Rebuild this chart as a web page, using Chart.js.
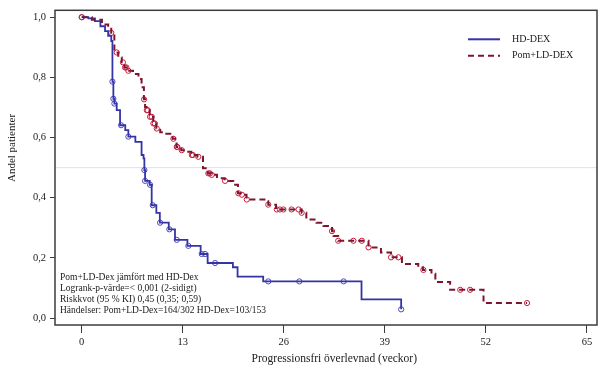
<!DOCTYPE html>
<html>
<head>
<meta charset="utf-8">
<script src="https://cdn.jsdelivr.net/npm/chart.js@4.4.1/dist/chart.umd.min.js"></script>
<style>
  html, body { margin: 0; padding: 0; background: #fff; }
</style>
</head>
<body>
<canvas id="km" width="605" height="367"></canvas>
<script>
// axis ticks
const xTicks = [0, 13, 26, 39, 52, 65];
const yTicks = [0, 0.2, 0.4, 0.6, 0.8, 1.0];

// HD-DEX: step times (weeks) and survival after each step, censor times
const hdTime = [0, 0.85, 1.7, 2.4, 3.0, 3.4, 3.8, 3.95, 4.07, 4.2, 4.5, 4.93, 5.6, 6.0, 6.9,
  7.7, 7.95, 8.06, 8.15, 8.75, 9.0, 9.6, 10.05, 11.2, 12.0, 13.6, 15.3, 16.2, 19.45, 20.05,
  23.35, 36.0, 41.1];
const hdSurv = [1.0, 0.996, 0.987, 0.970, 0.954, 0.938, 0.921, 0.786, 0.729, 0.713, 0.691, 0.641,
  0.625, 0.603, 0.586, 0.542, 0.531, 0.492, 0.456, 0.443, 0.375, 0.350, 0.317, 0.295, 0.260,
  0.240, 0.213, 0.183, 0.169, 0.138, 0.122, 0.062, 0.029];
const hdCensor = [0, 3.95, 4.07, 4.2, 5.06, 6.0, 8.06, 8.15, 8.79, 9.14, 10.08, 11.27, 12.23,
  13.72, 15.44, 15.87, 17.16, 24.0, 28.0, 33.7, 41.1];

// Pom+LD-DEX
const pomTime = [0, 1.3, 2.6, 3.4, 3.8, 4.2, 4.7, 5.15, 5.5, 5.9, 6.6, 7.3, 7.7, 8.0, 8.15,
  8.35, 8.75, 9.2, 9.6, 10.1, 10.7, 11.7, 12.2, 12.8, 13.4, 14.1, 14.9, 15.6, 16.2, 16.7,
  17.4, 18.4, 19.5, 20.1, 20.6, 21.2, 23.8, 24.0, 25.0, 28.3, 28.9, 30.2, 31.1, 32.2, 32.4,
  33.0, 36.9, 38.5, 39.8, 41.2, 43.3, 43.9, 45.0, 45.5, 47.4, 51.7, 57.3];
const pomSurv = [1.0, 0.992, 0.976, 0.967, 0.948, 0.883, 0.866, 0.85, 0.833, 0.822, 0.811, 0.795,
  0.767, 0.727, 0.702, 0.691, 0.669, 0.647, 0.63, 0.618, 0.613, 0.596, 0.569, 0.558, 0.553,
  0.542, 0.536, 0.498, 0.481, 0.476, 0.465, 0.456, 0.443, 0.415, 0.41, 0.394, 0.388, 0.377,
  0.361, 0.35, 0.328, 0.317, 0.306, 0.289, 0.273, 0.257, 0.235, 0.218, 0.202, 0.18, 0.169,
  0.16, 0.147, 0.12, 0.094, 0.05, 0.05];
const pomCensor = [0, 3.8, 4.5, 5.3, 5.57, 5.75, 6.0, 8.02, 8.37, 8.5, 8.79, 9.0, 9.22, 9.4,
  9.65, 11.79, 12.23, 12.3, 12.87, 14.16, 14.3, 15.0, 16.29, 16.5, 16.73, 18.44, 20.15, 20.6,
  21.24, 24.0, 25.1, 25.5, 25.95, 27.0, 27.9, 28.3, 32.2, 33.0, 34.96, 36.04, 36.9, 39.8,
  40.75, 43.96, 48.7, 49.97, 57.3];

const seriesNames = ['HD-DEX', 'Pom+LD-DEX'];
const xTitle = 'Progressionsfri överlevnad (veckor)';
const yTitle = 'Andel patienter';
const noteLines = [
  'Pom+LD-Dex jämfört med HD-Dex',
  'Logrank-p-värde=< 0,001 (2-sidigt)',
  'Riskkvot (95 % KI) 0,45 (0,35; 0,59)',
  'Händelser: Pom+LD-Dex=164/302 HD-Dex=103/153'
];

const FONT = "'Liberation Serif', 'Times New Roman', serif";
const INK = '#1a1a1a';
const BLUE = '#3434a6';
const BLUE_PT = '#4848bd';
const RED = '#7c1630';
const RED_PT = '#c81e3c';

function survAt(times, surv, t) {
  let s = surv[0];
  for (let i = 0; i < times.length; i++) {
    if (times[i] <= t + 1e-9) s = surv[i];
  }
  return s;
}

const stepPts = (times, surv) => times.map((t, i) => ({ x: t, y: surv[i] }));
const censorPts = (cens, times, surv) => cens.map(t => ({ x: t, y: survAt(times, surv, t) }));

const framePlugin = {
  id: 'frame',
  beforeDatasetsDraw(chart) {
    const { ctx, chartArea: a, scales } = chart;
    const y = scales.y.getPixelForValue(0.5);
    ctx.save();
    ctx.strokeStyle = '#e2e2e2';
    ctx.lineWidth = 1;
    ctx.beginPath();
    ctx.moveTo(a.left, y);
    ctx.lineTo(a.right, y);
    ctx.stroke();
    ctx.restore();
  },
  afterDraw(chart) {
    const { ctx, chartArea: a, scales } = chart;
    ctx.save();
    ctx.strokeStyle = '#3c3c3c';
    ctx.lineWidth = 1.5;
    ctx.strokeRect(a.left, a.top, a.right - a.left, a.bottom - a.top);

    ctx.fillStyle = INK;
    ctx.textBaseline = 'middle';

    // axis titles (x title centred on the 0..65 tick span)
    ctx.font = '11.5px ' + FONT;
    ctx.textAlign = 'center';
    const xc = (scales.x.getPixelForValue(xTicks[0]) + scales.x.getPixelForValue(xTicks[xTicks.length - 1])) / 2;
    ctx.fillText(xTitle, xc, 359);
    ctx.save();
    ctx.font = '11px ' + FONT;
    ctx.translate(12, 148);
    ctx.rotate(-Math.PI / 2);
    ctx.fillText(yTitle, 0, 0);
    ctx.restore();

    // legend, top right inside the frame
    ctx.textAlign = 'left';
    ctx.font = '10px ' + FONT;
    const lx = a.right - 129;
    const styles = [
      { color: BLUE, dash: [] },
      { color: RED, dash: [6, 4] }
    ];
    seriesNames.forEach((name, i) => {
      const ly = a.top + 29 + i * 16.5;
      ctx.strokeStyle = styles[i].color;
      ctx.lineWidth = 2;
      ctx.setLineDash(styles[i].dash);
      ctx.beginPath();
      ctx.moveTo(lx, ly);
      ctx.lineTo(lx + 32, ly);
      ctx.stroke();
      ctx.setLineDash([]);
      ctx.fillText(name, lx + 44, ly);
    });

    // statistics note, bottom left
    ctx.font = '9.5px ' + FONT;
    noteLines.forEach((line, i) => {
      ctx.fillText(line, a.left + 5, a.bottom - 48 + i * 11);
    });
    ctx.restore();
  }
};

new Chart(document.getElementById('km'), {
  type: 'line',
  data: {
    datasets: [
      {
        label: seriesNames[1],
        data: stepPts(pomTime, pomSurv),
        stepped: true,
        borderColor: RED,
        borderWidth: 2,
        borderDash: [6, 4],
        pointRadius: 0,
        fill: false
      },
      {
        label: seriesNames[0],
        data: stepPts(hdTime, hdSurv),
        stepped: true,
        borderColor: BLUE,
        borderWidth: 1.8,
        pointRadius: 0,
        fill: false
      },
      {
        label: 'pom censor',
        data: censorPts(pomCensor, pomTime, pomSurv),
        showLine: false,
        pointRadius: 2.6,
        pointBorderWidth: 1,
        pointBorderColor: RED_PT,
        pointBackgroundColor: 'rgba(0,0,0,0)'
      },
      {
        label: 'hd censor',
        data: censorPts(hdCensor, hdTime, hdSurv),
        showLine: false,
        pointRadius: 2.6,
        pointBorderWidth: 1,
        pointBorderColor: BLUE_PT,
        pointBackgroundColor: 'rgba(0,0,0,0)'
      }
    ]
  },
  options: {
    responsive: false,
    animation: false,
    devicePixelRatio: 1,
    layout: { padding: { left: 0, right: 8, top: 7, bottom: 0 } },
    plugins: { legend: { display: false }, tooltip: { enabled: false } },
    scales: {
      x: {
        type: 'linear',
        min: -3.44,
        max: 66.3,
        afterBuildTicks: s => { s.ticks = xTicks.map(v => ({ value: v })); },
        afterFit: s => { s.height = 42; },
        border: { display: false },
        grid: { drawOnChartArea: false, tickLength: 8, tickColor: '#3c3c3c', lineWidth: 1 },
        ticks: { color: INK, font: { family: FONT, size: 10.5 }, padding: 3, maxRotation: 0, autoSkip: false }
      },
      y: {
        min: -0.023,
        max: 1.023,
        afterBuildTicks: s => { s.ticks = yTicks.map(v => ({ value: v })); },
        afterFit: s => { s.width = 55; },
        border: { display: false },
        grid: { drawOnChartArea: false, tickLength: 5, tickColor: '#3c3c3c', lineWidth: 1 },
        ticks: {
          color: INK,
          font: { family: FONT, size: 10.5 },
          padding: 4,
          callback: v => v.toFixed(1).replace('.', ',')
        }
      }
    }
  },
  plugins: [framePlugin]
});
</script>
</body>
</html>
